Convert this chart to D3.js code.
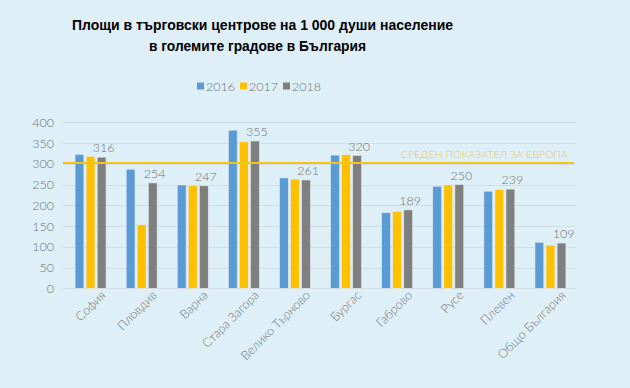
<!DOCTYPE html>
<meta charset="utf-8">
<head>
  <title>Площи в търговски центрове</title>
  <script src="https://d3js.org/d3.v7.min.js"></script>
  <style>
    body { margin: 0; background: #dfeff8; }
    svg { display: block; }
    .title { font-family: "Liberation Sans", Arial, sans-serif; font-weight: bold; font-size: 15px; fill: #000; }
    .lbl { font-family: "Lato", "Open Sans", sans-serif; font-weight: 300; fill: #6f6f6f; }
    .grid line { stroke: #d3dde4; stroke-width: 1px; }
  </style>
</head>
<body>
  <svg width="630" height="388"></svg>
  <script>
    var cities = ["София", "Пловдив", "Варна", "Стара Загора", "Велико Търново",
                  "Бургас", "Габрово", "Русе", "Плевен", "Общо България"];
    var years = ["2016", "2017", "2018"];
    var v2016 = [323, 287, 249, 381, 266, 321, 182, 246, 234, 111];
    var v2017 = [318, 153, 247, 353, 263, 322, 185, 249, 238, 104];
    var v2018 = [316, 254, 247, 355, 261, 320, 189, 250, 239, 109];
    var colors = ["#5b9bd5", "#ffc000", "#7f7f7f"];
    var yTicks = [0, 50, 100, 150, 200, 250, 300, 350, 400];
    var europe = 302;
    var europeLabel = "СРЕДЕН ПОКАЗАТЕЛ ЗА ЕВРОПА";

    var series = [v2016, v2017, v2018];
    var svg = d3.select("svg");

    var x = d3.scaleBand().domain(cities).range([65, 576]);
    var x1 = d3.scaleBand().domain(years).range([-15.5, 15.5]).paddingInner(0.2);
    var y = d3.scaleLinear().domain([0, 400]).range([288.3, 122.3]);

    // title
    svg.append("text").attr("class", "title").attr("x", 262.5).attr("y", 30)
      .attr("text-anchor", "middle")
      .attr("textLength", 381).attr("lengthAdjust", "spacingAndGlyphs")
      .text("Площи в търговски центрове на 1 000 души население");
    svg.append("text").attr("class", "title").attr("x", 257.5).attr("y", 51)
      .attr("text-anchor", "middle")
      .attr("textLength", 217).attr("lengthAdjust", "spacingAndGlyphs")
      .text("в големите градове в България");

    // legend
    var legX = [197, 240, 283];
    years.forEach(function(yr, i) {
      svg.append("rect").attr("x", legX[i]).attr("y", 82.5).attr("width", 7).attr("height", 7)
        .attr("fill", colors[i]);
      svg.append("text").attr("class", "lbl").attr("x", legX[i] + 9).attr("y", 90.5)
        .attr("font-size", "12.5px").text(yr);
    });

    // grid
    svg.append("g").attr("class", "grid").selectAll("line").data(yTicks).enter().append("line")
      .attr("x1", 63).attr("x2", 576)
      .attr("y1", function(d) { return Math.round(y(d)) + 0.5; })
      .attr("y2", function(d) { return Math.round(y(d)) + 0.5; });

    // y axis labels
    svg.append("g").selectAll("text").data(yTicks).enter().append("text")
      .attr("class", "lbl").attr("font-size", "12.5px")
      .attr("x", 54).attr("y", function(d) { return y(d) + 4.5; })
      .attr("text-anchor", "end").text(function(d) { return d; });

    // bars
    var groups = svg.append("g").selectAll("g").data(cities).enter().append("g")
      .attr("transform", function(d) { return "translate(" + (x(d) + x.bandwidth() / 2) + ",0)"; });

    years.forEach(function(yr, si) {
      groups.append("rect")
        .attr("x", x1(yr))
        .attr("width", x1.bandwidth())
        .attr("y", function(d, i) { return y(series[si][i]); })
        .attr("height", function(d, i) { return y(0) - y(series[si][i]); })
        .attr("fill", colors[si])
        .attr("stroke", "#e4ecf1").attr("stroke-width", 0.6);
    });

    // value labels on 2018
    groups.append("text").attr("class", "lbl").attr("font-size", "12.5px")
      .attr("fill", "#5f5f5f")
      .attr("x", x1("2018") + x1.bandwidth() / 2 + 2)
      .attr("y", function(d, i) { return y(v2018[i]) - 5; })
      .attr("text-anchor", "middle")
      .text(function(d, i) { return v2018[i]; });

    // europe line
    svg.append("line").attr("x1", 63).attr("x2", 574)
      .attr("y1", y(europe)).attr("y2", y(europe))
      .attr("stroke", "#f3c41c").attr("stroke-width", 2);
    svg.append("text").attr("x", 568).attr("y", y(europe) - 5)
      .attr("text-anchor", "end").attr("font-family", "Lato, sans-serif").attr("font-weight", 300)
      .attr("font-size", "10.5px").attr("fill", "#efc74a")
      .attr("textLength", 167).attr("lengthAdjust", "spacingAndGlyphs")
      .text(europeLabel);

    // x labels
    groups.append("text").attr("class", "lbl").attr("font-size", "12.5px")
      .attr("text-anchor", "end")
      .attr("transform", "translate(16,296) rotate(-45)")
      .text(function(d) { return d; });
  </script>
</body>
